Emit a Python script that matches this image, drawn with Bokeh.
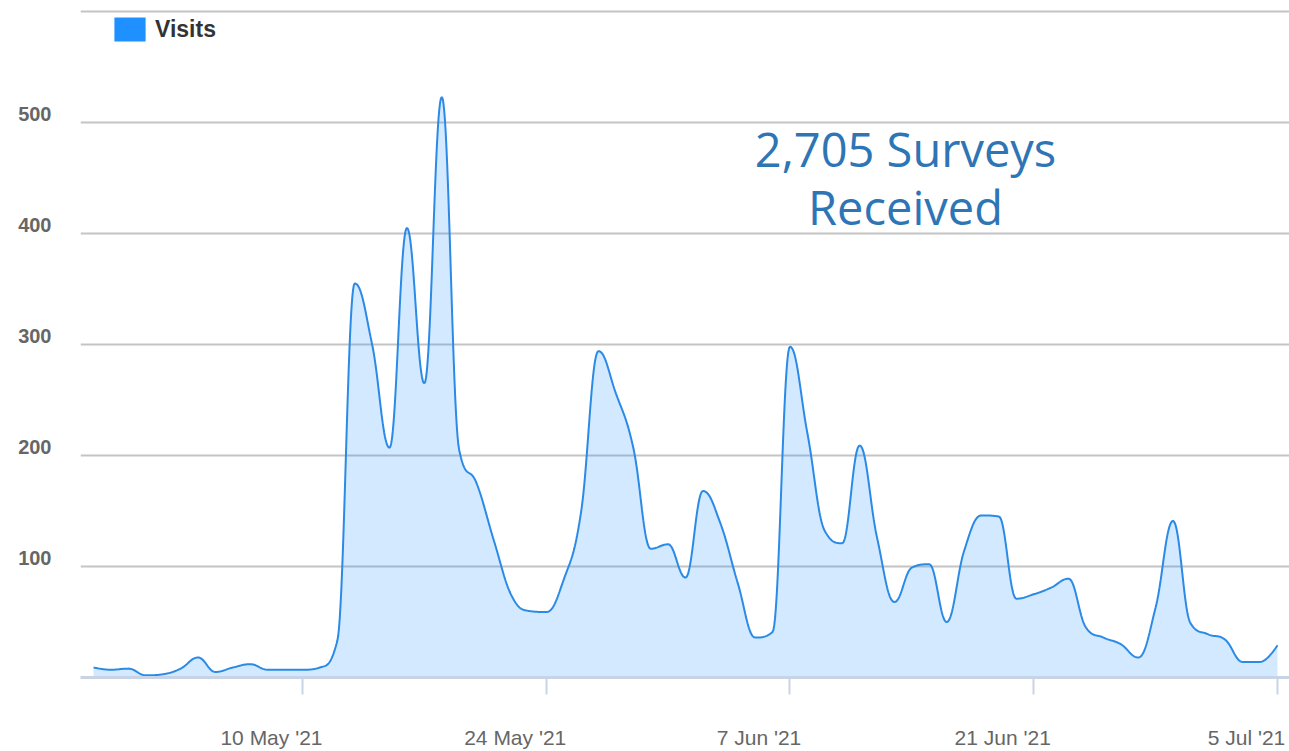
import numpy as np
import pandas as pd
from bokeh.plotting import figure
from bokeh.models import (Range1d, FixedTicker, Label, ColumnDataSource,
                          Legend, LegendItem, CustomJSTickFormatter, LinearAxis,
                          DatetimeAxis)
from bokeh.embed import file_html
from bokeh.resources import INLINE

# ---------------- data ----------------
start_date = "2021-04-28"
visits = [9, 7, 8, 2, 3, 8, 18, 5, 9, 12,
          7, 7, 7, 9, 33, 355, 300, 207, 405, 265,
          523, 205, 175, 123, 74, 60, 59, 88, 149, 294,
          256, 207, 116, 120, 90, 168, 139, 85, 36, 41,
          298, 220, 132, 121, 209, 126, 68, 99, 102, 50,
          114, 146, 145, 71, 75, 81, 89, 45, 36, 30,
          18, 63, 141, 49, 39, 34, 14, 14, 29]
tick_dates = ["2021-05-10", "2021-05-24", "2021-06-07", "2021-06-21", "2021-07-05"]
tick_labels = ["10 May '21", "24 May '21", "7 Jun '21", "21 Jun '21", "5 Jul '21"]
y_ticks = [100, 200, 300, 400, 500]
series_name = "Visits"
annotation_lines = ["2,705 Surveys", "Received"]

DAY = 86400000.0
base_ms = pd.Timestamp(start_date).value / 1e6
xs_days = np.arange(len(visits), dtype=float)
ys = np.array(visits, dtype=float)


# Highcharts-style spline (smoothing 1.5) rendered as bezier curve
def hc_spline(xs, ys, smoothing=1.5, n=24):
    denom = smoothing + 1
    N = len(xs)
    left = [None] * N
    right = [None] * N
    for i in range(N):
        px, py = xs[i], ys[i]
        if 0 < i < N - 1:
            lx, ly = xs[i - 1], ys[i - 1]
            nx, ny = xs[i + 1], ys[i + 1]
            lcx = (smoothing * px + lx) / denom
            lcy = (smoothing * py + ly) / denom
            rcx = (smoothing * px + nx) / denom
            rcy = (smoothing * py + ny) / denom
            if rcx != lcx:
                corr = ((rcy - lcy) * (rcx - px)) / (rcx - lcx) + py - rcy
                lcy += corr
                rcy += corr
                if lcy > ly and lcy > py:
                    lcy = max(ly, py); rcy = 2 * py - lcy
                elif lcy < ly and lcy < py:
                    lcy = min(ly, py); rcy = 2 * py - lcy
                if rcy > ny and rcy > py:
                    rcy = max(ny, py); lcy = 2 * py - rcy
                elif rcy < ny and rcy < py:
                    rcy = min(ny, py); lcy = 2 * py - rcy
            left[i] = (lcx, lcy)
            right[i] = (rcx, rcy)
        else:
            left[i] = right[i] = (px, py)
    t = np.linspace(0, 1, n, endpoint=False)
    ox, oy = [], []
    for i in range(N - 1):
        p0 = np.array([xs[i], ys[i]])
        p1 = np.array(right[i])
        p2 = np.array(left[i + 1])
        p3 = np.array([xs[i + 1], ys[i + 1]])
        for tt in t:
            b = ((1 - tt) ** 3) * p0 + 3 * ((1 - tt) ** 2) * tt * p1 + 3 * (1 - tt) * tt * tt * p2 + tt ** 3 * p3
            ox.append(b[0]); oy.append(b[1])
    ox.append(xs[-1]); oy.append(ys[-1])
    return np.array(ox), np.array(oy)


cx, cy = hc_spline(xs_days, ys)
curve = ColumnDataSource(dict(x=base_ms + cx * DAY, y=cy, y0=np.zeros_like(cy)))

# ---------------- layout constants ----------------
W, H = 1289, 751
FRAME_LEFT, FRAME_BOTTOM = 80, 677
PX_PER_UNIT = 1.11          # vertical pixels per visit
PX_PER_DAY = 17.41          # horizontal pixels per day
y_end = FRAME_BOTTOM / PX_PER_UNIT
x_start = base_ms - 0.75 * DAY
x_end = base_ms + (len(visits) - 1 + 0.69) * DAY
lab_dx = 31 / PX_PER_DAY * DAY      # tick labels sit 31px left of their tick
lab_dy = 9 / PX_PER_UNIT            # y labels sit 9px above their gridline

p = figure(width=W, height=H, x_axis_type="datetime", output_backend="svg",
           toolbar_location=None, tools="",
           x_range=Range1d(x_start, x_end), y_range=Range1d(0, y_end),
           min_border_left=FRAME_LEFT, min_border_right=0, min_border_top=0,
           min_border_bottom=H - FRAME_BOTTOM)
p.outline_line_color = None
p.background_fill_color = "white"
p.border_fill_color = "white"
p.extra_x_ranges = {"lab": Range1d(x_start + lab_dx, x_end + lab_dx)}
p.extra_y_ranges = {"lab": Range1d(-lab_dy, y_end - lab_dy)}

# grid
p.xgrid.visible = False
p.ygrid.ticker = FixedTicker(ticks=y_ticks + [600])
p.ygrid.grid_line_color = "#c4c4c4"
p.ygrid.grid_line_width = 2

# y axis: main hidden, labels on shifted axis
p.yaxis.visible = False
yax = LinearAxis(y_range_name="lab", ticker=FixedTicker(ticks=y_ticks),
                 axis_line_color=None, major_tick_line_color=None,
                 minor_tick_line_color=None, major_tick_in=0, major_tick_out=0,
                 major_label_standoff=29,
                 major_label_text_font="Liberation Sans",
                 major_label_text_font_style="bold",
                 major_label_text_font_size="20px",
                 major_label_text_color="#666666")
p.add_layout(yax, "left")

# x axis: baseline + ticks (no labels)
tick_ms = [pd.Timestamp(d).value / 1e6 for d in tick_dates]
p.xaxis.ticker = FixedTicker(ticks=tick_ms)
p.xaxis.formatter = CustomJSTickFormatter(code="return ''")
p.xaxis.major_label_text_font_size = "1px"
p.xaxis.major_label_standoff = 0
p.xaxis.axis_line_color = "#c9d3e6"
p.xaxis.axis_line_width = 3
p.xaxis.major_tick_line_color = "#c9d3e6"
p.xaxis.major_tick_line_width = 2
p.xaxis.major_tick_out = 17
p.xaxis.major_tick_in = 0
p.xaxis.minor_tick_line_color = None

# x labels on shifted axis
xlab = DatetimeAxis(x_range_name="lab", ticker=FixedTicker(ticks=tick_ms),
                    axis_line_color=None, major_tick_line_color=None,
                    minor_tick_line_color=None, major_tick_in=0, major_tick_out=0,
                    major_label_standoff=31,
                    major_label_text_font="Liberation Sans",
                    major_label_text_font_size="21px",
                    major_label_text_color="#666666")
xlab.formatter = CustomJSTickFormatter(
    args=dict(tvals=tick_ms, tlabs=tick_labels),
    code="""
    for (let i = 0; i < tvals.length; i++) {
        if (Math.abs(tvals[i] - tick) < 1000) { return tlabs[i]; }
    }
    return '';
    """)
p.add_layout(xlab, "below")

# area + line
p.varea(x="x", y1="y0", y2="y", source=curve, fill_color="#1e90ff", fill_alpha=0.2)
p.line(x="x", y="y", source=curve, line_color="#2b8ae6", line_width=2)

# legend (zero-size swatch renderer anchored at first data point)
dummy = p.quad(left=[base_ms], right=[base_ms], top=[0], bottom=[0],
               fill_color="#1e90ff", line_color=None)
legend = Legend(items=[LegendItem(label=series_name, renderers=[dummy])],
                location=(30, 633), padding=0, margin=0, spacing=0,
                glyph_width=39, glyph_height=30, label_standoff=6,
                border_line_color=None, background_fill_alpha=0,
                label_text_font="Liberation Sans", label_text_font_style="bold",
                label_text_font_size="23px", label_text_color="#333333")
p.add_layout(legend)

# annotation
for txt, yy in zip(annotation_lines, [529, 471]):
    p.add_layout(Label(x=825, y=yy, x_units="screen", y_units="screen", text=txt,
                       text_align="center", text_baseline="alphabetic",
                       text_font="Open Sans", text_font_size="47px",
                       text_color="#2e75b6"))

open("out.html", "w").write(file_html(p, INLINE))
